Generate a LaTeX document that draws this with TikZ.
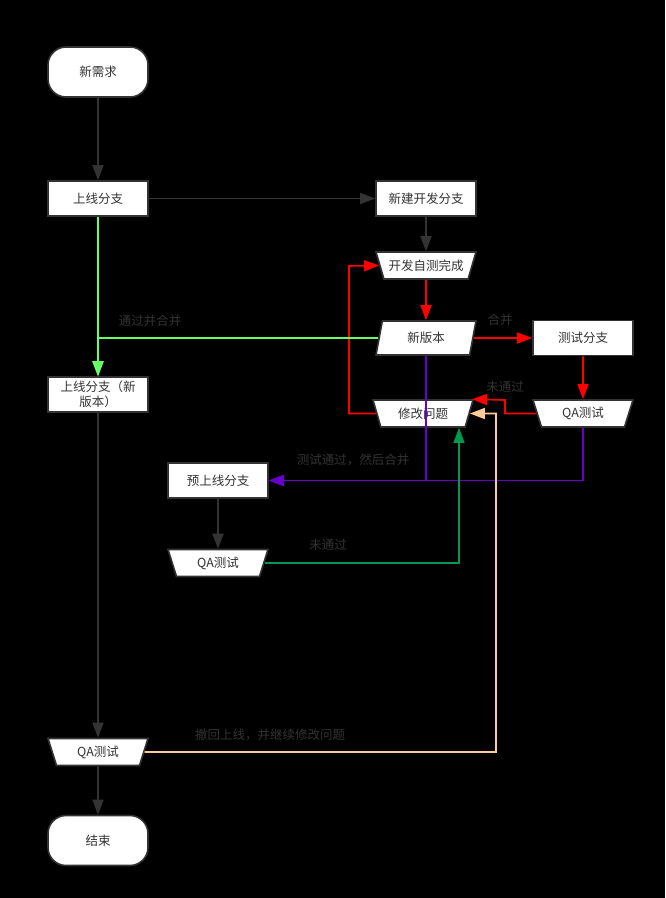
\documentclass[tikz,border=0pt]{standalone}
\usepackage{fontspec}
\setmainfont{Noto Sans CJK SC}
\usetikzlibrary{arrows.meta,shapes.geometric,positioning}

\definecolor{ink}{HTML}{333333}
\definecolor{passgreen}{HTML}{66FF66}
\definecolor{failgreen}{HTML}{00994D}
\definecolor{mergepurple}{HTML}{6600CC}
\definecolor{undopeach}{HTML}{FFCC99}

\begin{document}
\begin{tikzpicture}[x=1pt,y=-1pt,
    base/.style={draw=ink,line width=1.6pt,fill=white,text=ink,
        font=\fontsize{12.5}{15}\selectfont,inner sep=1pt},
    terminal/.style={base,rectangle,rounded corners=18pt,
        minimum width=100pt,minimum height=50pt},
    process/.style={base,rectangle,minimum width=100pt,minimum height=35pt},
    manual/.style={base,trapezium,trapezium stretches body,
        shape border rotate=180,trapezium left angle=60,
        trapezium right angle=60,minimum width=100pt,minimum height=27pt},
    data/.style={base,trapezium,trapezium stretches body,
        trapezium left angle=65,trapezium right angle=115,
        minimum width=100pt,minimum height=34pt},
    flow/.style={-{Triangle[length=15pt,width=11pt]},line width=1.6pt},
    edgelabel/.style={text=ink,font=\fontsize{12.5}{15}\selectfont,inner sep=0pt}
]
    \fill[black] (0,0) rectangle (665,898);
    \useasboundingbox (0,0) rectangle (665,898);

    % main line on the left
    \node[terminal] (start) at (98,72) {新需求};
    \node[process] (online) at (98,198.5) {上线分支};
    \node[process,align=center] (online-new) at (98,394.5) {上线分支（新\\版本）};
    \node[manual] (qa-prod) at (98,752) {QA测试};
    \node[terminal] (finish) at (98,840.5) {结束};

    % development and test branches
    \node[process] (newdev) at (426,198.5) {新建开发分支};
    \node[manual] (selftest) at (426,265.5) {开发自测完成};
    \node[data] (newver) at (426,338) {新版本};
    \node[process] (testbr) at (583,338) {测试分支};
    \node[manual] (qa-test) at (583,413.5) {QA测试};
    \node[manual] (fix) at (423,413.5) {修改问题};
    \node[process] (pre) at (218,480.5) {预上线分支};
    \node[manual] (qa-pre) at (218,563) {QA测试};

    \coordinate (fail-turn) at (505,400);
    \coordinate (fix-corner) at ([xshift=49pt]fix.north);
    \coordinate (loop-left) at (349,266);
    \coordinate (undo-turn) at (496,752);

    \draw[flow,ink] (start) -- (online);
    \draw[flow,ink] (online) -- (newdev);
    \draw[flow,ink] (newdev) -- (selftest);
    \draw[flow,ink] (pre) -- (qa-pre);
    \draw[flow,ink] (online-new) -- (qa-prod);
    \draw[flow,ink] (qa-prod) -- (finish);

    \draw[flow,red] (selftest) -- (newver);
    \draw[flow,red] (newver) -- (testbr);
    \draw[flow,red] (testbr) -- (qa-test);
    \draw[flow,red] (qa-test.west) -| (fail-turn) -- (fix-corner);
    \draw[flow,red] (fix.west) -| (loop-left) -- (selftest.west);

    \draw[flow,passgreen] (online) -- (online-new);
    \draw[flow,passgreen] (newver.west) -| (online-new.north);

    \draw[flow,mergepurple] (newver.south) |- (pre.east);
    \draw[flow,mergepurple] (qa-test.south) |- (pre.east);

    \draw[flow,failgreen] (qa-pre.east) -| ([xshift=36pt]fix.south);
    \draw[flow,undopeach] (qa-prod.east) -- (undo-turn) |- (fix.east);

    \node[edgelabel] (lbl-merge) at (500,320) {合并};
    \node[edgelabel] (lbl-fail-test) at (505,387) {未通过};
    \node[edgelabel] (lbl-pass) at (150,321) {通过并合并};
    \node[edgelabel] (lbl-pass-test) at (353,460) {测试通过，然后合并};
    \node[edgelabel] (lbl-fail-pre) at (328,545) {未通过};
    \node[edgelabel] (lbl-undo) at (270,735) {撤回上线，并继续修改问题};
\end{tikzpicture}
\end{document}
